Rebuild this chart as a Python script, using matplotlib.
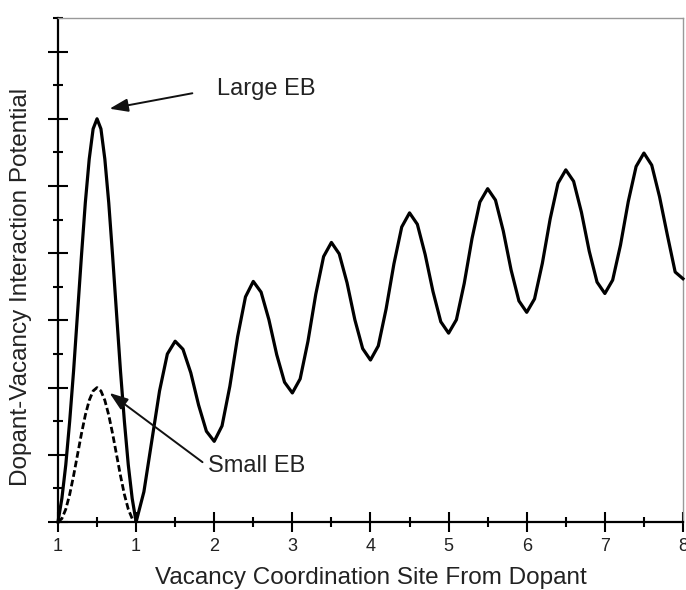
import numpy as np
import matplotlib as mpl
import matplotlib.pyplot as plt
from matplotlib.ticker import MultipleLocator, FixedLocator

mpl.rc('font', family=['Liberation Sans', 'DejaVu Sans'])

# first coordination shell, sampled every 0.05
x_shell = np.arange(0, 1.0001, 0.05)
large_eb = [0, 0.35, 0.85, 1.5, 2.25, 3.1, 3.95, 4.75, 5.4, 5.85, 6.0,
            5.85, 5.4, 4.75, 3.95, 3.1, 2.25, 1.5, 0.85, 0.35, 0]
small_eb = [0, 0.05, 0.19, 0.41, 0.69, 1.0, 1.31, 1.59, 1.81, 1.95, 2.0,
            1.95, 1.81, 1.59, 1.31, 1.0, 0.69, 0.41, 0.19, 0.05, 0]

# outer sites, sampled every 0.1 from 1.1 to 8.0
x_outer = np.arange(1.1, 8.0001, 0.1)
outer = [0.45, 1.2, 1.95, 2.5, 2.69,
         2.57, 2.22, 1.74, 1.35, 1.20,
         1.43, 2.02, 2.76, 3.35, 3.58,
         3.42, 3.01, 2.49, 2.08, 1.92,
         2.13, 2.69, 3.39, 3.95, 4.16,
         3.99, 3.56, 3.01, 2.58, 2.41,
         2.62, 3.17, 3.84, 4.39, 4.60,
         4.43, 3.98, 3.43, 2.98, 2.81,
         3.01, 3.55, 4.22, 4.76, 4.96,
         4.79, 4.33, 3.75, 3.29, 3.12,
         3.32, 3.85, 4.51, 5.04, 5.24,
         5.07, 4.61, 4.03, 3.57, 3.40,
         3.60, 4.12, 4.77, 5.29, 5.49,
         5.31, 4.84, 4.27, 3.72, 3.62]

xtick_pos = [0, 1, 2, 3, 4, 5, 6, 7, 8]
xtick_labels = ['1', '1', '2', '3', '4', '5', '6', '7', '8']

fig = plt.figure(figsize=(6.86, 5.9), dpi=100)
ax = fig.add_axes([0.0845, 0.1153, 0.9111, 0.8542])

x_full = np.concatenate([x_shell, x_outer])
y_full = np.concatenate([large_eb, outer])
ax.plot(x_full, y_full, color='black', lw=2.3, solid_joinstyle='round', clip_on=False, zorder=3)
ax.plot(x_shell, small_eb, color='black', lw=2.0, ls=(0, (2.4, 1.1)), clip_on=False, zorder=3)

ax.set_xlim(0, 8)
ax.set_ylim(0, 7.5)

ax.xaxis.set_major_locator(FixedLocator(xtick_pos))
ax.set_xticklabels(xtick_labels)
ax.xaxis.set_minor_locator(MultipleLocator(0.5))
ax.yaxis.set_major_locator(MultipleLocator(1))
ax.yaxis.set_minor_locator(MultipleLocator(0.5))
ax.set_yticklabels([])

ax.tick_params(which='major', direction='inout', length=15, width=1.5, colors='black',
               labelcolor='#222222', labelsize=13, pad=4)
ax.tick_params(which='minor', direction='inout', length=7.5, width=1.5)
ax.tick_params(axis='y', which='both', left=True, labelleft=False)

for s in ['left', 'bottom']:
    ax.spines[s].set_linewidth(1.6)
    ax.spines[s].set_color('black')
for s in ['top', 'right']:
    ax.spines[s].set_linewidth(1.0)
    ax.spines[s].set_color('#999999')

ax.set_xlabel('Vacancy Coordination Site From Dopant', fontsize=17.5, color='#222222', labelpad=9)
ax.set_ylabel('Dopant-Vacancy Interaction Potential', fontsize=17.5, color='#222222')
ax.yaxis.set_label_coords(-0.042, 0.466)

arrow = dict(arrowstyle='-|>,head_length=0.7,head_width=0.25', lw=1.4, color='#111111',
             shrinkA=0, shrinkB=0, mutation_scale=16)
ax.annotate('', xy=(0.66, 6.15), xytext=(1.72, 6.38), arrowprops=arrow)
ax.text(2.03, 6.44, 'Large EB', fontsize=17, color='#222222', va='center', ha='left')
ax.annotate('', xy=(0.66, 1.92), xytext=(1.85, 0.89), arrowprops=arrow)
ax.text(1.92, 0.83, 'Small EB', fontsize=17, color='#222222', va='center', ha='left')

plt.savefig('out.png', dpi=100)
